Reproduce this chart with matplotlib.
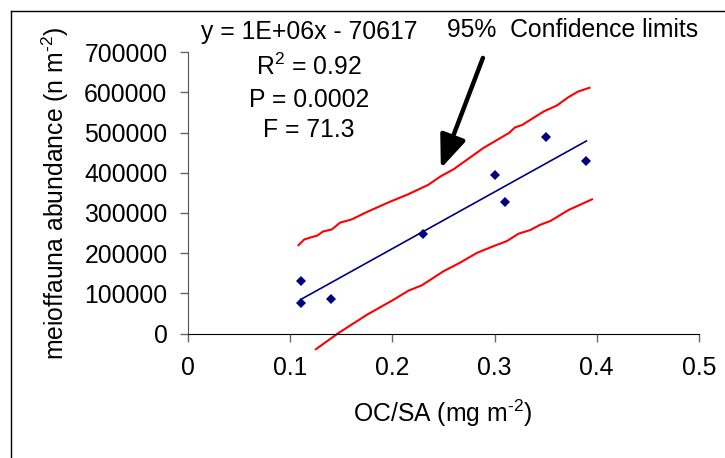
import matplotlib
matplotlib.use("Agg")
import matplotlib.pyplot as plt
from matplotlib.lines import Line2D

plt.rcParams["font.family"] = ["Liberation Sans", "DejaVu Sans"]
plt.rcParams["mathtext.fontset"] = "custom"
plt.rcParams["mathtext.rm"] = "Liberation Sans"
plt.rcParams["mathtext.it"] = "Liberation Sans:italic"
plt.rcParams["mathtext.default"] = "regular"

# observations
oc_sa = [0.11, 0.11, 0.14, 0.23, 0.30, 0.31, 0.35, 0.39]
abundance = [130000, 75000, 85000, 248000, 395000, 328000, 490000, 430000]

# fitted regression
slope = 1.41e6
intercept = -70617
fit_x = [0.11, 0.39]

# 95% confidence limits
ci_upper_x = [0.108, 0.1135, 0.119, 0.1265, 0.132, 0.1406, 0.1487, 0.160, 0.175,
              0.198, 0.214, 0.235, 0.247, 0.26, 0.289, 0.314, 0.320, 0.327,
              0.348, 0.361, 0.3725, 0.382, 0.393]
ci_upper_y = [220000, 234000, 238500, 244000, 254000, 259000, 276000, 284000, 302500,
              328500, 345000, 370000, 391000, 409000, 461700, 499000, 513000, 519000,
              552500, 567500, 588500, 602500, 611700]
ci_lower_x = [0.125, 0.147, 0.175, 0.201, 0.2157, 0.2288, 0.25, 0.266, 0.283, 0.299,
              0.312, 0.3235, 0.335, 0.345, 0.3546, 0.3725, 0.3955]
ci_lower_y = [-39000, 1000, 46700, 84000, 106700, 120000, 155000, 176000, 201000, 217500,
              230000, 248500, 257500, 271000, 280000, 307500, 334000]

x_ticks = [0, 0.1, 0.2, 0.3, 0.4, 0.5]
x_tick_labels = ["0", "0.1", "0.2", "0.3", "0.4", "0.5"]
y_ticks = [0, 100000, 200000, 300000, 400000, 500000, 600000, 700000]
y_tick_labels = ["0", "100000", "200000", "300000", "400000", "500000", "600000", "700000"]

stats_lines = ["y = 1E+06x - 70617", r"R$^{2}$ = 0.92", "P = 0.0002", "F = 71.3"]

W, H = 725, 458
FS = 17.8
fig = plt.figure(figsize=(W / 100, H / 100), dpi=100)
ax = fig.add_axes([188.3 / W, (H - 373.7) / H, 510.4 / W, 321.4 / H])
ax.set_xlim(0, 0.5)
ax.set_ylim(-100000, 700000)

navy = "#000080"
ax.plot(ci_upper_x, ci_upper_y, color="#ff0000", lw=1.5, clip_on=False)
ax.plot(ci_lower_x, ci_lower_y, color="#ff0000", lw=1.5, clip_on=False)
ax.plot(fit_x, [slope * v + intercept for v in fit_x], color=navy, lw=1.2)
ax.plot(oc_sa, abundance, linestyle="none", marker="D", markersize=5.2,
        color=navy, markeredgewidth=0, clip_on=False)

for s in ["top", "right"]:
    ax.spines[s].set_visible(False)
ax.spines["bottom"].set_position(("data", 0))
ax.spines["bottom"].set_color("black")
ax.spines["left"].set_bounds(0, 700000)
ax.spines["left"].set_color("#555555")

ax.set_xticks(x_ticks)
ax.set_xticklabels(x_tick_labels)
ax.set_yticks(y_ticks)
ax.set_yticklabels(y_tick_labels)
ax.tick_params(axis="x", direction="out", length=6, width=1, color="#666666",
               labelsize=FS, pad=10.5)
ax.tick_params(axis="y", direction="out", length=6, width=1, color="#666666",
               labelsize=FS, pad=9)

ax.annotate("", xy=(0.2474, 411000), xytext=(0.2886, 686000),
            arrowprops=dict(arrowstyle="-|>,head_length=1.0,head_width=0.4",
                            lw=3.2, color="black", mutation_scale=20,
                            shrinkA=0, shrinkB=0),
            annotation_clip=False)

fig.text(55 / W, 1 - 193 / H, "meioffauna abundance (n m$^{\u20102}$)", rotation=90,
         ha="center", va="center", fontsize=FS)
fig.text(443 / W, 1 - 413 / H, "OC/SA (mg m$^{\u20102}$)", ha="center", va="center",
         fontsize=FS)

for txt, base in zip(stats_lines, [38.5, 75, 107, 137]):
    fig.text(309 / W, 1 - base / H, txt, ha="center", va="baseline", fontsize=FS)
fig.text(447 / W, 1 - 36.7 / H, "95%  Confidence limits", ha="left", va="baseline",
         fontsize=FS)

# chart frame
fig.add_artist(Line2D([11 / W, 11 / W], [0, 1 - 11 / H], color="black", lw=1,
                      transform=fig.transFigure))
fig.add_artist(Line2D([11 / W, 1], [1 - 11 / H, 1 - 11 / H], color="black", lw=1,
                      transform=fig.transFigure))

fig.savefig("out.png", dpi=100)
